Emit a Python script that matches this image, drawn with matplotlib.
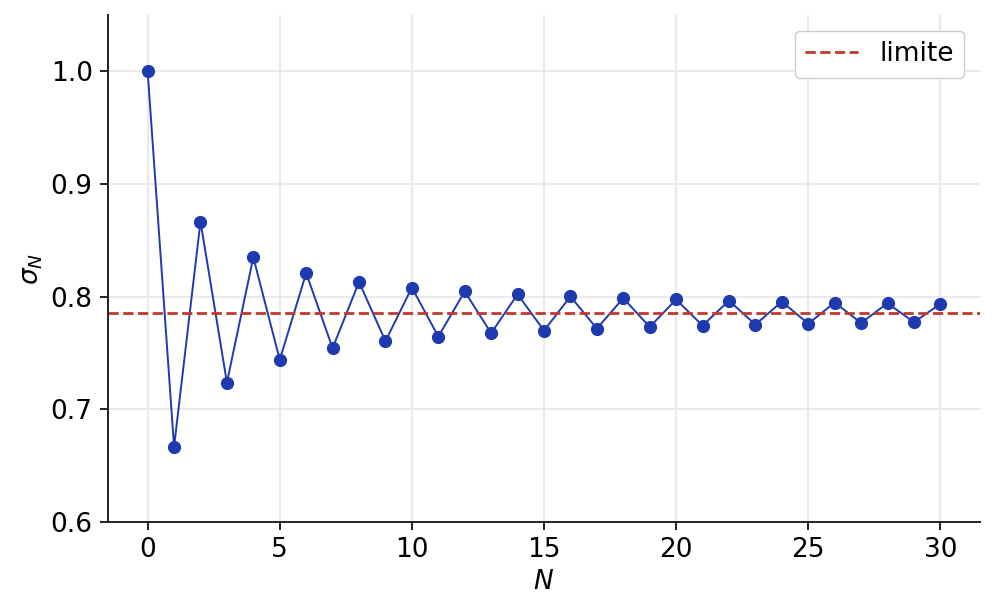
import matplotlib
matplotlib.use("Agg")
import matplotlib.pyplot as plt

n_values = list(range(31))
sigma_values = [
    1.0000, 0.6667, 0.8667, 0.7238, 0.8349, 0.7440, 0.8209, 0.7543,
    0.8131, 0.7605, 0.8081, 0.7646, 0.8046, 0.7676, 0.8021, 0.7699,
    0.8002, 0.7717, 0.7987, 0.7731, 0.7975, 0.7743, 0.7965, 0.7752,
    0.7956, 0.7760, 0.7948, 0.7767, 0.7942, 0.7773, 0.7936,
]
limit_value = 0.7854

fig = plt.figure(figsize=(9.94, 6.15), dpi=100)
ax = fig.add_axes([108 / 994, 1 - 522 / 615, (980 - 108) / 994, (522 - 15) / 615])

ax.plot(n_values, sigma_values, "-o", color="#1f3aaf", linewidth=1.4, markersize=8.5)
ax.axhline(limit_value, color="#c0392b", linestyle="--", linewidth=2.0, label="limite")

ax.set_ylim(0.6, 1.05)
ax.set_xlim(-1.5, 31.5)
ax.set_xticks([0, 5, 10, 15, 20, 25, 30])
ax.set_yticks([0.6, 0.7, 0.8, 0.9, 1.0])
ax.grid(True, color="#e8e8e8", linewidth=1.3)
ax.set_axisbelow(True)
for side in ("top", "right"):
    ax.spines[side].set_visible(False)
for side in ("left", "bottom"):
    ax.spines[side].set_linewidth(1.4)
    ax.spines[side].set_color("#222222")
ax.tick_params(labelsize=19, length=6, width=1.4, pad=5, color="#222222")
ax.set_xlabel(r"$N$", fontsize=19, labelpad=4)
ax.set_ylabel(r"$\sigma_N$", fontsize=19, labelpad=4)
ax.legend(fontsize=19, loc="upper right", framealpha=1, edgecolor="#cccccc",
          borderaxespad=0.6, handlelength=2.0)

fig.savefig("out.png", dpi=100)
